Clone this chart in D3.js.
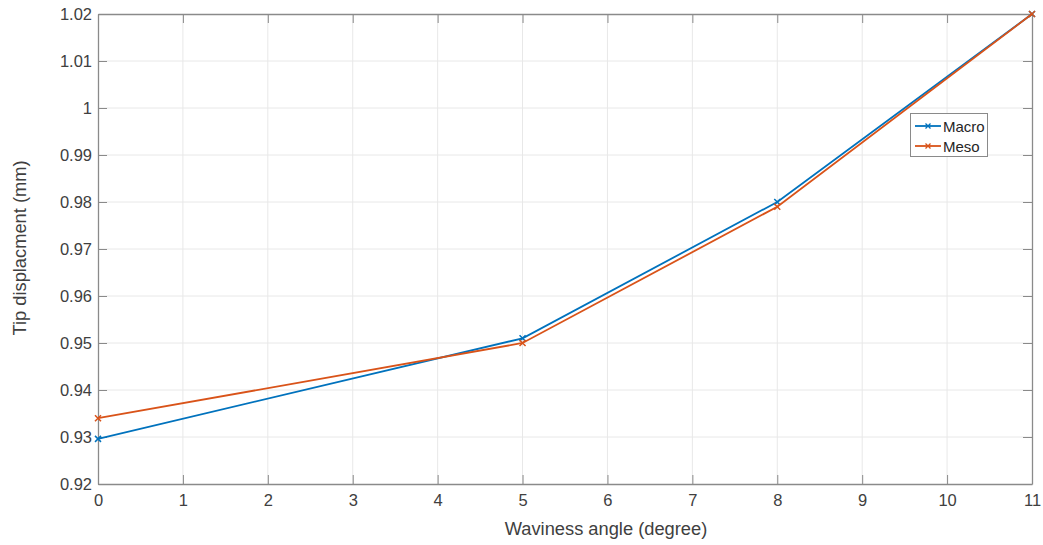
<!DOCTYPE html>
<html><head><meta charset="utf-8">
<script src="https://d3js.org/d3.v7.min.js"></script>
<style>body{margin:0;background:#fff;} text{font-family:"Liberation Sans",Arial,sans-serif;}</style>
</head><body>
<svg id="c" width="1043" height="545"></svg>
<script>
const xValues = [0, 5, 8, 11];
const macro = [0.9296, 0.951, 0.980, 1.020];
const meso = [0.934, 0.950, 0.979, 1.020];
const seriesNames = ["Macro", "Meso"];
const colors = ["#0072BD", "#D95319"];
const xTicks = [0,1,2,3,4,5,6,7,8,9,10,11];
const yTicks = [0.92,0.93,0.94,0.95,0.96,0.97,0.98,0.99,1.0,1.01,1.02];

const svg = d3.select("#c");
const L = 98, R = 1032, T = 14, B = 484;
const x = d3.scaleLinear().domain([0, 11]).range([L, R]);
const y = d3.scaleLinear().domain([0.92, 1.02]).range([B, T]);
const axisCol = "#8a8a8a", textCol = "#404040";

// grid
svg.append("g").selectAll("line").data(xTicks.slice(1,-1)).join("line")
  .attr("x1", d=>x(d)).attr("x2", d=>x(d)).attr("y1", T).attr("y2", B)
  .attr("stroke", "#e8e8e8").attr("stroke-width", 1);
svg.append("g").selectAll("line").data(yTicks.slice(1,-1)).join("line")
  .attr("y1", d=>y(d)).attr("y2", d=>y(d)).attr("x1", L).attr("x2", R)
  .attr("stroke", "#e8e8e8").attr("stroke-width", 1);

// axes
const fmtY = d => d3.format("")(+d.toFixed(2));
const gx = svg.append("g").attr("transform", `translate(0,${B})`)
  .call(d3.axisBottom(x).tickValues(xTicks).tickSizeInner(-9).tickSizeOuter(0).tickPadding(10));
const gy = svg.append("g").attr("transform", `translate(${L},0)`)
  .call(d3.axisLeft(y).tickValues(yTicks).tickFormat(fmtY).tickSizeInner(-9).tickSizeOuter(0).tickPadding(6));
const gxt = svg.append("g").attr("transform", `translate(0,${T})`)
  .call(d3.axisTop(x).tickValues(xTicks).tickSizeInner(-9).tickSizeOuter(0).tickFormat(""));
const gyr = svg.append("g").attr("transform", `translate(${R},0)`)
  .call(d3.axisRight(y).tickValues(yTicks).tickSizeInner(-9).tickSizeOuter(0).tickFormat(""));
[gx, gy, gxt, gyr].forEach(g => {
  g.select(".domain").attr("stroke", axisCol).attr("stroke-width", 1.3);
  g.selectAll(".tick line").attr("stroke", axisCol);
  g.selectAll("text").attr("fill", textCol).style("font-size", "16.5px")
    .style("font-family", "'Liberation Sans', Arial, sans-serif");
});

// labels
svg.append("text").attr("x", 606).attr("y", 535).attr("text-anchor", "middle")
  .attr("fill", textCol).style("font-size", "18.3px").text("Waviness angle (degree)");
svg.append("text").attr("transform", `translate(26,248) rotate(-90)`).attr("text-anchor", "middle")
  .attr("fill", textCol).style("font-size", "18.3px").text("Tip displacment (mm)");

// series
const seriesData = [macro, meso];
const line = d3.line().x(d=>x(d[0])).y(d=>y(d[1]));
seriesData.forEach((vals, i) => {
  const pts = xValues.map((xv, j) => [xv, vals[j]]);
  svg.append("path").datum(pts).attr("d", line).attr("fill", "none")
    .attr("stroke", colors[i]).attr("stroke-width", 1.8);
  svg.append("g").selectAll("path").data(pts).join("path")
    .attr("d", "M-3,-3L3,3M-3,3L3,-3")
    .attr("transform", d => `translate(${x(d[0])},${y(d[1])})`)
    .attr("stroke", colors[i]).attr("stroke-width", 1.5).attr("fill", "none");
});

// legend
const lg = svg.append("g");
lg.append("rect").attr("x", 910.5).attr("y", 113.5).attr("width", 77).attr("height", 43)
  .attr("fill", "#fff").attr("stroke", "#8a8a8a").attr("stroke-width", 1);
seriesNames.forEach((n, i) => {
  const yy = 126 + i*20;
  lg.append("line").attr("x1", 915).attr("x2", 941).attr("y1", yy).attr("y2", yy)
    .attr("stroke", colors[i]).attr("stroke-width", 1.8);
  lg.append("path").attr("d", "M-2.5,-2.5L2.5,2.5M-2.5,2.5L2.5,-2.5")
    .attr("transform", `translate(928,${yy})`).attr("stroke", colors[i]).attr("stroke-width", 1.3);
  lg.append("text").attr("x", 943).attr("y", yy + 5.5).attr("fill", "#262626")
    .style("font-size", "15px").text(n);
});
</script>
</body></html>
